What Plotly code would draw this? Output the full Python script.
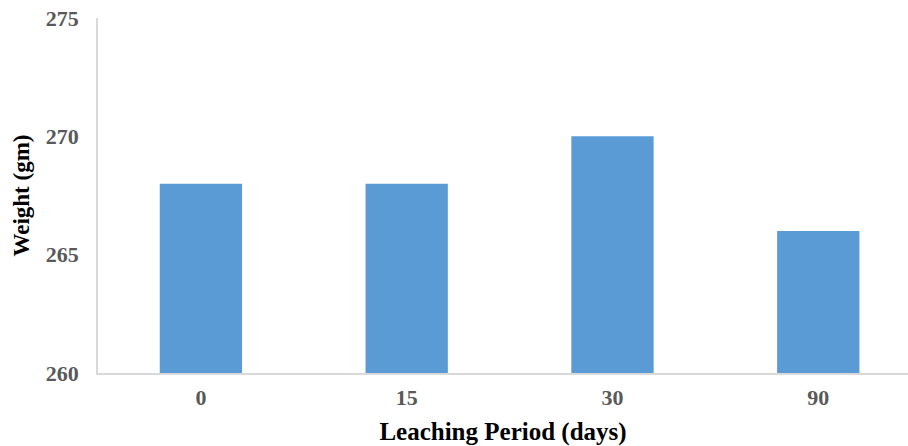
import plotly.graph_objects as go

categories = ["0", "15", "30", "90"]
weights = [268, 268, 270, 266]
y_ticks = [260, 265, 270, 275]

fig = go.Figure()
fig.add_trace(go.Bar(
    x=[0, 1, 2, 3], y=weights, width=0.4, base=0,
    marker=dict(color="#5b9bd5", line=dict(width=0)),
))

font_family = "Liberation Serif, Times New Roman, serif"
fig.update_layout(
    width=908, height=446,
    margin=dict(l=98, r=0, t=18, b=73),
    plot_bgcolor="white", paper_bgcolor="white",
    showlegend=False,
    font=dict(family=font_family),
    xaxis=dict(
        range=[-0.5, 3.436], automargin=False,
        tickmode="array", tickvals=[0, 1, 2, 3], ticktext=categories,
        showgrid=False, zeroline=False,
        showline=True, linecolor="#d9d9d9", linewidth=1.5,
        ticks="outside", ticklen=4, tickcolor="rgba(0,0,0,0)",
        tickfont=dict(family=font_family, size=22, color="#595959", weight="bold"),
        title=dict(text="Leaching Period (days)", standoff=14,
                   font=dict(family=font_family, size=25, color="black", weight="bold")),
    ),
    yaxis=dict(
        range=[260, 275], automargin=False,
        tickmode="array", tickvals=y_ticks, ticktext=[str(v) for v in y_ticks],
        ticklabeloverflow="allow",
        showgrid=False, zeroline=False,
        showline=True, linecolor="#d9d9d9", linewidth=1.5,
        ticks="outside", ticklen=13, tickcolor="rgba(0,0,0,0)",
        tickfont=dict(family=font_family, size=22, color="#595959", weight="bold"),
        title=dict(text="Weight (gm)", standoff=10,
                   font=dict(family=font_family, size=23, color="black", weight="bold")),
    ),
)
fig.write_html(
    "out.html",
    config={"displayModeBar": False},
    post_script=("document.body.style.margin='0';"
                 "document.body.style.overflow='hidden';"
                 "document.documentElement.style.overflow='hidden';"),
)
